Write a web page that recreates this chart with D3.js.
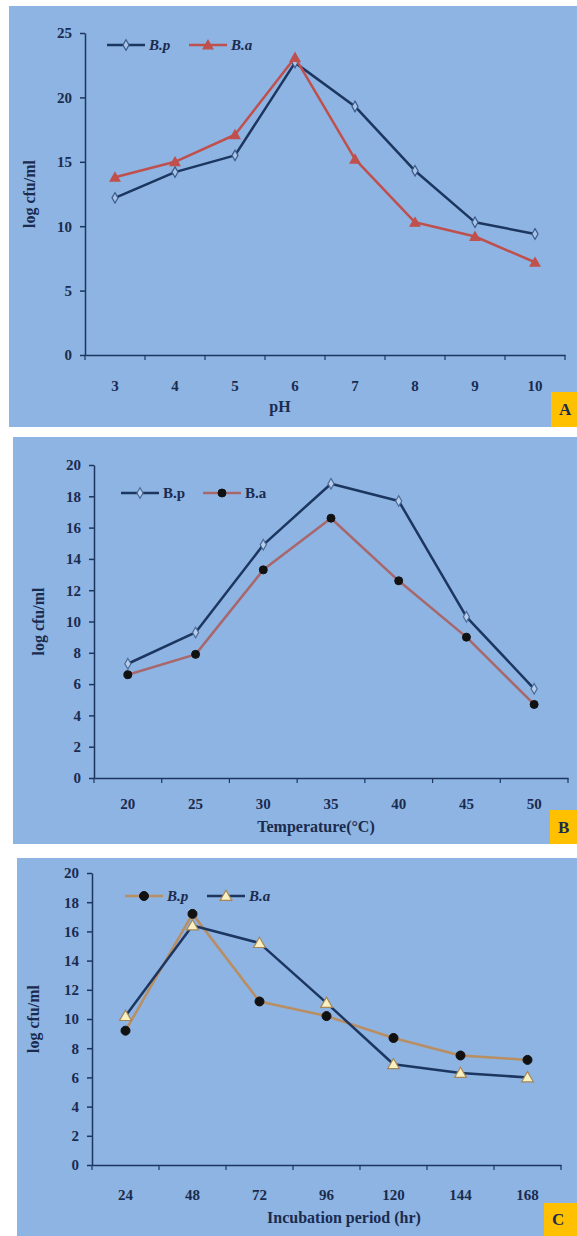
<!DOCTYPE html>
<html>
<head>
<meta charset="utf-8">
<script src="https://cdn.jsdelivr.net/npm/d3@7"></script>
<style>
  body { margin: 0; background: #fff; }
  svg { display: block; }
  text { font-family: "Liberation Serif", "Times New Roman", serif; font-weight: bold; fill: #1b2b4e; }
</style>
</head>
<body>
<div id="chart"></div>
<script>
// panel A: pH
const phCategories = ["3", "4", "5", "6", "7", "8", "9", "10"];
const phBp = [12.2, 14.2, 15.5, 22.7, 19.3, 14.3, 10.3, 9.4];
const phBa = [13.8, 15.0, 17.1, 23.1, 15.2, 10.3, 9.2, 7.2];
const phTicks = [0, 5, 10, 15, 20, 25];

// panel B: temperature
const tempCategories = ["20", "25", "30", "35", "40", "45", "50"];
const tempBp = [7.3, 9.3, 14.9, 18.8, 17.7, 10.3, 5.7];
const tempBa = [6.6, 7.9, 13.3, 16.6, 12.6, 9.0, 4.7];
const tempTicks = [0, 2, 4, 6, 8, 10, 12, 14, 16, 18, 20];

// panel C: incubation period
const incCategories = ["24", "48", "72", "96", "120", "144", "168"];
const incBp = [9.2, 17.2, 11.2, 10.2, 8.7, 7.5, 7.2];
const incBa = [10.2, 16.4, 15.2, 11.1, 6.9, 6.3, 6.0];
const incTicks = [0, 2, 4, 6, 8, 10, 12, 14, 16, 18, 20];

const seriesNames = ["B.p", "B.a"];

const W = 577, H = 1236;
const bg = "#8db4e2";
const navy = "#1c3660";

const svg = d3.select("#chart").append("svg")
    .attr("width", W)
    .attr("height", H);

function marker(g, s, x, y) {
    if (s.marker === "circle") {
        g.append("circle").attr("cx", x).attr("cy", y).attr("r", s.size)
            .attr("fill", s.fill).attr("stroke", s.stroke).attr("stroke-width", 1);
    } else {
        let tri = s.marker === "triangle";
        g.append("path")
            .attr("d", d3.symbol().type(tri ? d3.symbolTriangle : d3.symbolDiamond).size(s.size)())
            .attr("transform", "translate(" + x + "," + (tri ? y + 1 : y) + ")")
            .attr("fill", s.fill).attr("stroke", s.stroke).attr("stroke-width", 1.2);
    }
}

function drawPanel(p) {
    let g = svg.append("g");

    g.append("rect")
        .attr("x", p.box[0]).attr("y", p.box[1])
        .attr("width", p.box[2]).attr("height", p.box[3])
        .attr("fill", bg);

    let x = d3.scaleBand().domain(p.categories).range([p.left, p.right]);
    let y = d3.scaleLinear().domain([0, p.ymax]).range([p.bottom, p.top]);

    // y axis
    let ya = g.append("g")
        .attr("transform", "translate(" + p.left + ",0)")
        .call(d3.axisLeft(y).tickValues(p.ticks).tickSize(5).tickSizeOuter(0).tickPadding(8));
    ya.selectAll("path, line").attr("stroke", navy).attr("stroke-width", 1.5);
    ya.selectAll("text").style("font-size", "15px").attr("fill", "#1b2b4e")
        .style("font-family", "Liberation Serif").style("font-weight", "bold");

    // x axis: labels centered in bands, ticks on band edges
    let xa = g.append("g")
        .attr("transform", "translate(0," + p.bottom + ")")
        .call(d3.axisBottom(x).tickSize(0).tickSizeOuter(0).tickPadding(p.labelPad));
    xa.select("path").attr("stroke", navy).attr("stroke-width", 1.5);
    xa.selectAll("text").style("font-size", "15px").attr("fill", "#1b2b4e")
        .style("font-family", "Liberation Serif").style("font-weight", "bold");
    let edges = p.categories.map(c => x(c)).concat([p.right]);
    g.selectAll(null).data(edges).enter().append("line")
        .attr("x1", d => d).attr("x2", d => d)
        .attr("y1", p.bottom).attr("y2", p.bottom + 5)
        .attr("stroke", navy).attr("stroke-width", 1.2);

    // axis titles
    g.append("text")
        .attr("transform", "translate(" + p.ytitleX + "," + (p.top + p.bottom) / 2 + ") rotate(-90)")
        .attr("text-anchor", "middle")
        .attr("dy", "0.35em")
        .style("font-size", "16px")
        .text("log cfu/ml");
    g.append("text")
        .attr("x", p.xtitle[0]).attr("y", p.xtitle[1])
        .attr("text-anchor", "middle")
        .style("font-size", "16px")
        .text(p.xtitleText);

    // series
    let cx = c => x(c) + x.bandwidth() / 2;
    p.series.forEach(s => {
        let pts = p.categories.map((c, i) => [cx(c), y(s.values[i])]);
        g.append("path")
            .datum(pts)
            .attr("fill", "none")
            .attr("stroke", s.line)
            .attr("stroke-width", 2.5)
            .attr("stroke-linejoin", "round")
            .attr("d", d3.line());
        pts.forEach(pt => marker(g, s, pt[0], pt[1]));
    });

    // legend
    let lx = p.legend[0], ly = p.legend[1];
    p.series.forEach((s, i) => {
        let x0 = lx + i * 82;
        g.append("line")
            .attr("x1", x0).attr("x2", x0 + 38)
            .attr("y1", ly).attr("y2", ly)
            .attr("stroke", s.line).attr("stroke-width", 2.5);
        marker(g, s, x0 + 19, ly);
        g.append("text")
            .attr("x", x0 + 42).attr("y", ly)
            .attr("dy", "0.35em")
            .style("font-size", "15px")
            .style("font-style", p.italic ? "italic" : "normal")
            .text(seriesNames[i]);
    });

    // panel letter
    g.append("rect")
        .attr("x", p.letterBox[0]).attr("y", p.letterBox[1])
        .attr("width", p.letterBox[2]).attr("height", p.letterBox[3])
        .attr("fill", "#ffc000");
    g.append("text")
        .attr("x", p.letterBox[0] + 8).attr("y", p.letterBox[1] + p.letterBox[3] / 2)
        .attr("dy", "0.35em")
        .style("font-size", "17px")
        .attr("fill", "#2a2a2a")
        .text(p.letter);
}

drawPanel({
    box: [9, 6, 568, 421],
    categories: phCategories, ymax: 25, ticks: phTicks,
    left: 85, right: 565, top: 33, bottom: 355, labelPad: 25,
    ytitleX: 29, xtitle: [280, 412], xtitleText: "pH",
    legend: [107, 45], italic: true,
    letterBox: [551, 392, 26, 35], letter: "A",
    series: [
        { values: phBp, line: navy, marker: "diamond", size: 32, fill: "#a9c4e6", stroke: "#3a5a8a" },
        { values: phBa, line: "#c0504d", marker: "triangle", size: 42, fill: "#c0504d", stroke: "#c0504d" }
    ]
});

drawPanel({
    box: [13, 437, 564, 407],
    categories: tempCategories, ymax: 20, ticks: tempTicks,
    left: 94, right: 568, top: 465, bottom: 778, labelPad: 20,
    ytitleX: 38, xtitle: [316, 832], xtitleText: "Temperature(°C)",
    legend: [121, 493], italic: false,
    letterBox: [550, 810, 27, 34], letter: "B",
    series: [
        { values: tempBp, line: navy, marker: "diamond", size: 32, fill: "#b8cde8", stroke: "#4a6a9a" },
        { values: tempBa, line: "#a8676b", marker: "circle", size: 4, fill: "#111", stroke: "#111" }
    ]
});

drawPanel({
    box: [17, 858, 560, 378],
    categories: incCategories, ymax: 20, ticks: incTicks,
    left: 92, right: 561, top: 873, bottom: 1165, labelPad: 24,
    ytitleX: 33, xtitle: [344, 1223], xtitleText: "Incubation period (hr)",
    legend: [125, 896], italic: true,
    letterBox: [544, 1203, 33, 33], letter: "C",
    series: [
        { values: incBp, line: "#b98e62", marker: "circle", size: 4.5, fill: "#111", stroke: "#111" },
        { values: incBa, line: navy, marker: "triangle", size: 60, fill: "#fbf1c0", stroke: "#a5865a" }
    ]
});
</script>
</body>
</html>
